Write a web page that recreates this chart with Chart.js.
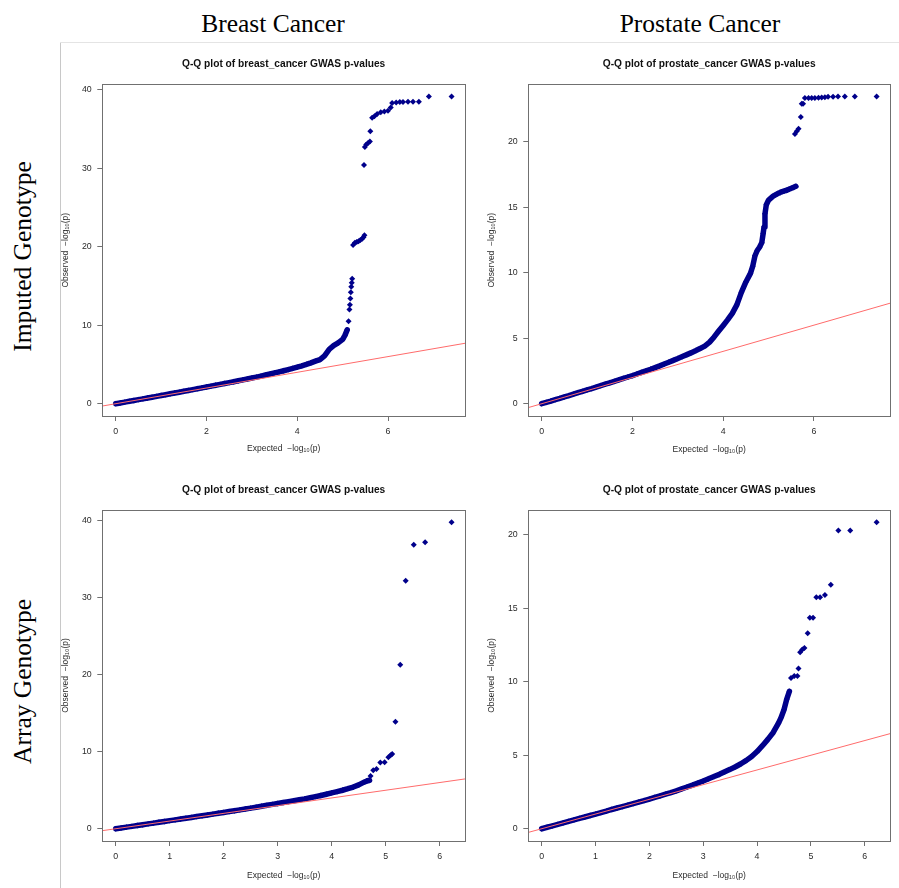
<!DOCTYPE html>
<html>
<head>
<meta charset="utf-8">
<script src="https://cdn.jsdelivr.net/npm/chart.js@4.4.1/dist/chart.umd.min.js"></script>
<style>
  body { margin: 0; background: #fff; width: 899px; height: 888px; position: relative; overflow: hidden; }
  .hdr { position: absolute; width: 400px; text-align: center; font-family: "Liberation Serif", "Times New Roman", serif;
         font-size: 25.5px; line-height: 25px; color: #000; white-space: nowrap; }
  .rot { transform: rotate(-90deg); }
  .panel { position: absolute; }
  .vline { position: absolute; left: 60px; top: 42px; width: 1px; height: 846px; background: #c8c8c8; }
  .hline { position: absolute; left: 60px; top: 42px; width: 839px; height: 1px; background: #e4e4e4; }
</style>
</head>
<body>
<div class="vline"></div>
<div class="hline"></div>
<div class="hdr" style="left:73px;top:11px;">Breast Cancer</div>
<div class="hdr" style="left:500px;top:11px;">Prostate Cancer</div>
<div class="hdr rot" style="left:-178px;top:244px;">Imputed Genotype</div>
<div class="hdr rot" style="left:-178px;top:669px;">Array Genotype</div>

<div class="panel" style="left:58px;top:44px;width:422px;height:421px;"><canvas id="impBreast"></canvas></div>
<div class="panel" style="left:480px;top:44px;width:419px;height:421px;"><canvas id="impProstate"></canvas></div>
<div class="panel" style="left:58px;top:470px;width:422px;height:418px;"><canvas id="arrBreast"></canvas></div>
<div class="panel" style="left:480px;top:470px;width:419px;height:418px;"><canvas id="arrProstate"></canvas></div>

<script>
// ---- Data ----
const titleBreast = "Q-Q plot of breast_cancer GWAS p-values";
const titleProstate = "Q-Q plot of prostate_cancer GWAS p-values";
const xTitle = "Expected  \u2212log\u2081\u2080(p)";
const yTitle = "Observed  \u2212log\u2081\u2080(p)";

const xTicksImputed = [0, 2, 4, 6];
const xTicksArray = [0, 1, 2, 3, 4, 5, 6];
const yTicksBreast = [0, 10, 20, 30, 40];
const yTicksProstate = [0, 5, 10, 15, 20];

// imputed genotype, breast cancer
const impBreastBandX = [0,0.1,0.2,0.3,0.4,0.5,0.6,0.7,0.8,0.9,1.0,1.1,1.2,1.3,1.4,1.5,1.6,1.7,1.8,1.9,
  2.0,2.1,2.2,2.3,2.4,2.5,2.6,2.7,2.8,2.9,3.0,3.1,3.2,3.3,3.4,3.5,3.6,3.7,3.8,3.9,
  4.0,4.1,4.2,4.3,4.4,4.5,4.6,4.7,4.8,4.9,5.0,5.05,5.1];
const impBreastBandY = [0,0.1,0.2,0.31,0.41,0.52,0.62,0.73,0.83,0.94,1.05,1.15,1.26,1.37,1.47,1.58,1.69,1.8,1.91,2.02,
  2.13,2.24,2.35,2.46,2.58,2.69,2.8,2.92,3.04,3.15,3.27,3.39,3.52,3.65,3.78,3.92,4.06,4.2,4.35,4.5,
  4.66,4.82,5.0,5.2,5.42,5.62,6.1,6.9,7.4,7.75,8.2,8.7,9.4];
const impBreastTailX = [5.13,5.15,5.16,5.17,5.18,5.19,5.2,5.21,
  5.23,5.27,5.31,5.35,5.39,5.43,5.46,5.48,
  5.47,5.49,5.52,5.56,5.6,5.61,
  5.65,5.7,5.76,5.84,5.92,6.0,6.06,6.09,6.18,6.26,6.33,6.44,6.55,6.68,6.9,7.4];
const impBreastTailY = [10.5,12.0,12.6,13.4,14.2,14.9,15.4,15.9,
  20.2,20.5,20.6,20.7,20.85,21.0,21.2,21.45,
  30.4,32.7,33.0,33.2,33.4,34.7,
  36.4,36.6,36.9,37.1,37.2,37.3,37.7,38.3,38.35,38.4,38.4,38.45,38.45,38.45,39.1,39.1];

// imputed genotype, prostate cancer
const impProstateBandX = [0,0.1,0.2,0.3,0.4,0.5,0.6,0.7,0.8,0.9,1.0,1.1,1.2,1.3,1.4,1.5,1.6,1.7,1.8,1.9,
  2.0,2.1,2.2,2.3,2.4,2.5,2.6,2.7,2.8,2.9,3.0,3.1,3.2,3.3,3.4,3.5,3.6,3.7,3.8,3.9,
  4.0,4.1,4.2,4.3,4.4,4.5,4.6,4.65,4.7,4.75,4.8,4.85,4.88,4.9,4.92,4.95,
  5.0,5.05,5.1,5.15,5.2,5.25,5.3,5.35,5.4,5.45,5.5,5.55,5.6];
const impProstateBandY = [0,0.1,0.2,0.31,0.41,0.52,0.62,0.73,0.84,0.95,1.06,1.16,1.27,1.38,1.49,1.6,1.71,1.82,1.93,2.04,
  2.15,2.27,2.39,2.51,2.63,2.76,2.89,3.03,3.17,3.31,3.45,3.6,3.75,3.9,4.06,4.23,4.42,4.7,5.1,5.55,
  5.98,6.42,6.9,7.55,8.5,9.3,9.95,10.5,11.3,11.7,11.95,12.3,13.0,13.5,14.5,15.2,
  15.55,15.7,15.85,15.95,16.05,16.12,16.2,16.25,16.3,16.38,16.45,16.52,16.6];
const impProstateTailX = [5.58,5.62,5.66,5.71,5.73,5.76,5.8,5.88,5.95,6.02,6.1,6.17,6.24,6.31,6.42,6.53,6.68,6.9,7.38];
const impProstateTailY = [20.6,20.8,21.0,21.9,22.9,22.9,23.35,23.35,23.35,23.35,23.36,23.38,23.4,23.44,23.44,23.45,23.45,23.45,23.45];

// array genotype, breast cancer
const arrBreastBandX = [0,0.1,0.2,0.3,0.4,0.5,0.6,0.7,0.8,0.9,1.0,1.1,1.2,1.3,1.4,1.5,1.6,1.7,1.8,1.9,
  2.0,2.1,2.2,2.3,2.4,2.5,2.6,2.7,2.8,2.9,3.0,3.1,3.2,3.3,3.4,3.5,3.6,3.7,3.8,3.9,
  4.0,4.1,4.2,4.3,4.4,4.5,4.6,4.65,4.7];
const arrBreastBandY = [0,0.1,0.21,0.31,0.42,0.52,0.63,0.73,0.84,0.94,1.05,1.15,1.26,1.36,1.47,1.58,1.68,1.79,1.9,2.01,
  2.12,2.23,2.34,2.45,2.57,2.68,2.8,2.92,3.04,3.16,3.28,3.4,3.52,3.64,3.76,3.88,4.02,4.17,4.32,4.48,
  4.65,4.82,5.0,5.2,5.42,5.7,6.05,6.2,6.3];
const arrBreastTailX = [4.72,4.77,4.83,4.9,4.98,5.05,5.09,5.12,5.18,5.27,5.37,5.52,5.73,6.22];
const arrBreastTailY = [6.85,7.6,7.75,8.6,8.65,9.3,9.55,9.7,13.9,21.3,32.2,36.9,37.2,39.8];

// array genotype, prostate cancer
const arrProstateBandX = [0,0.1,0.2,0.3,0.4,0.5,0.6,0.7,0.8,0.9,1.0,1.1,1.2,1.3,1.4,1.5,1.6,1.7,1.8,1.9,
  2.0,2.1,2.2,2.3,2.4,2.5,2.6,2.7,2.8,2.9,3.0,3.1,3.2,3.3,3.4,3.5,3.6,3.7,3.8,3.9,
  4.0,4.1,4.2,4.3,4.4,4.45,4.5,4.55,4.6];
const arrProstateBandY = [0,0.1,0.2,0.3,0.4,0.5,0.6,0.7,0.8,0.9,1.0,1.1,1.2,1.31,1.41,1.51,1.61,1.71,1.81,1.91,
  2.02,2.13,2.24,2.35,2.46,2.58,2.71,2.84,2.97,3.11,3.25,3.4,3.55,3.7,3.87,4.04,4.22,4.42,4.65,4.92,
  5.25,5.65,6.08,6.55,7.2,7.6,8.1,8.8,9.35];
const arrProstateTailX = [4.63,4.69,4.75,4.77,4.8,4.84,4.88,4.94,4.98,5.04,5.1,5.17,5.26,5.37,5.51,5.73,6.22];
const arrProstateTailY = [10.25,10.4,10.4,10.9,12.0,12.2,12.3,13.3,14.35,14.35,15.75,15.75,15.9,16.6,20.3,20.3,20.85];

// ---- Style ----
const POINT = "#00008b";
const REF = "#ff6b6b";
const FRAME = "#707070";
const TEXT = "#2b2b2b";
const SANS = '"Liberation Sans", Arial, Helvetica, sans-serif';

// R-style axis limits: data range widened by 4% each side
function rangeOf(values) {
  const lo = Math.min(...values), hi = Math.max(...values);
  const pad = (hi - lo) * 0.04;
  return [lo - pad, hi + pad];
}
const toPoints = (xs, ys) => xs.map((x, i) => ({ x, y: ys[i] }));

const framePlugin = {
  id: "frame",
  afterDraw(chart) {
    const { ctx, chartArea: a } = chart;
    ctx.save();
    ctx.strokeStyle = FRAME;
    ctx.lineWidth = 1;
    const l = Math.round(a.left) + 0.5, t = Math.round(a.top) + 0.5;
    ctx.strokeRect(l, t, Math.round(a.right) - Math.round(a.left), Math.round(a.bottom) - Math.round(a.top));
    ctx.restore();
  }
};

function makePanel(id, title, bandX, bandY, tailX, tailY, xTicks, yTicks, box) {
  const [xMin, xMax] = rangeOf(bandX.concat(tailX));
  const [yMin, yMax] = rangeOf(bandY.concat(tailY));
  const axisCommon = {
    type: "linear",
    grid: { drawOnChartArea: false, drawTicks: true, tickLength: 5, color: FRAME, lineWidth: 1 },
    border: { display: true, color: FRAME, width: 1 }
  };
  return new Chart(document.getElementById(id), {
    type: "scatter",
    data: {
      datasets: [
        { label: "y = x", data: [{ x: xMin, y: xMin }, { x: xMax, y: xMax }], showLine: true,
          borderColor: REF, borderWidth: 1, pointRadius: 0, order: 0 },
        { label: "observed", data: toPoints(bandX, bandY), showLine: true, borderColor: POINT, borderWidth: 5.5,
          borderJoinStyle: "round", borderCapStyle: "round", backgroundColor: POINT,
          pointStyle: "rectRot", pointRadius: 2.9, pointBorderWidth: 0, order: 1 },
        { label: "observed tail", data: toPoints(tailX, tailY), showLine: false, borderColor: POINT,
          backgroundColor: POINT, pointStyle: "rectRot", pointRadius: 3.0, pointBorderWidth: 0, order: 2 }
      ]
    },
    options: {
      responsive: true,
      maintainAspectRatio: false,
      animation: false,
      events: [],
      layout: { padding: { left: 0, right: box.R, top: 0, bottom: 0 } },
      plugins: {
        legend: { display: false },
        tooltip: { enabled: false },
        title: { display: true, text: title, fullSize: false, color: "#111",
          font: { family: SANS, size: 10.2, weight: "bold" },
          padding: { top: box.titleTop, bottom: box.titleBottom } }
      },
      scales: {
        x: Object.assign({}, axisCommon, {
          position: "bottom", min: xMin, max: xMax,
          afterFit: s => { s.height = box.B; },
          afterBuildTicks: s => { s.ticks = xTicks.map(v => ({ value: v })); },
          ticks: { color: TEXT, autoSkip: false, maxRotation: 0, padding: 5.4, font: { family: SANS, size: 8.8 } },
          title: { display: true, text: xTitle, color: TEXT, font: { family: SANS, size: 8.5 },
            padding: { top: 0, bottom: box.xTitlePad } }
        }),
        y: Object.assign({}, axisCommon, {
          position: "left", min: yMin, max: yMax,
          afterFit: s => { s.width = box.L; },
          afterBuildTicks: s => { s.ticks = yTicks.map(v => ({ value: v })); },
          ticks: { color: TEXT, autoSkip: false, padding: 5.6, font: { family: SANS, size: 8.8 } },
          title: { display: true, text: yTitle, color: TEXT, font: { family: SANS, size: 8.5 },
            padding: { top: box.yTitlePad, bottom: 0 } }
        })
      }
    },
    plugins: [framePlugin]
  });
}

makePanel("impBreast", titleBreast, impBreastBandX, impBreastBandY, impBreastTailX, impBreastTailY,
  xTicksImputed, yTicksBreast,
  { R: 15, B: 49, L: 44.3, titleTop: 13.9, titleBottom: 14.2, yTitlePad: 2.7, xTitlePad: 10.9 });
makePanel("impProstate", titleProstate, impProstateBandX, impProstateBandY, impProstateTailX, impProstateTailY,
  xTicksImputed, yTicksProstate,
  { R: 9, B: 49, L: 48.3, titleTop: 13.9, titleBottom: 14.2, yTitlePad: 6.1, xTitlePad: 10.4 });
makePanel("arrBreast", titleBreast, arrBreastBandX, arrBreastBandY, arrBreastTailX, arrBreastTailY,
  xTicksArray, yTicksBreast,
  { R: 15, B: 47, L: 44.3, titleTop: 13.9, titleBottom: 13.9, yTitlePad: 2.7, xTitlePad: 7.4 });
makePanel("arrProstate", titleProstate, arrProstateBandX, arrProstateBandY, arrProstateTailX, arrProstateTailY,
  xTicksArray, yTicksProstate,
  { R: 9, B: 47, L: 48.3, titleTop: 13.9, titleBottom: 13.9, yTitlePad: 6.1, xTitlePad: 7.1 });
</script>
</body>
</html>
